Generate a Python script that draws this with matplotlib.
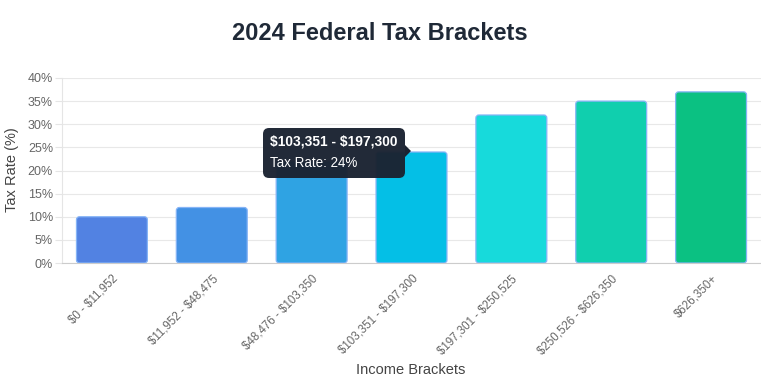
import matplotlib
matplotlib.use("Agg")
import matplotlib.pyplot as plt
from matplotlib.patches import FancyBboxPatch, Polygon

plt.rcParams["text.parse_math"] = False
plt.rcParams["font.family"] = ["Liberation Sans", "DejaVu Sans"]

categories = ["$0 - $11,952", "$11,952 - $48,475", "$48,476 - $103,350",
              "$103,351 - $197,300", "$197,301 - $250,525", "$250,526 - $626,350",
              "$626,350+"]
rates = [10, 12, 22, 24, 32, 35, 37]
colors = ["#5282e2", "#4391e4", "#2fa3e3", "#04bfe6", "#17dadb", "#10cfae", "#0bc182"]
yticks = [0, 5, 10, 15, 20, 25, 30, 35, 40]

W, H = 761, 384
fig = plt.figure(figsize=(W / 100, H / 100), dpi=100)
L, R, T, B = 62, 761, 78, 263
ax = fig.add_axes([L / W, 1 - B / H, (R - L) / W, (B - T) / H])

x = list(range(len(categories)))
bars = ax.bar(x, rates, width=0.71, color="none", edgecolor="none")
xu = (R - L) / len(categories)  # px per x unit
yu = (B - T) / 40.0             # px per y unit
r_px = 3.0
for b, c in zip(bars, colors):
    p = FancyBboxPatch((b.get_x(), b.get_y()), b.get_width(), b.get_height(),
                       boxstyle=f"round,pad=0,rounding_size={r_px / xu}",
                       mutation_aspect=(r_px / yu) / (r_px / xu),
                       facecolor=c, edgecolor="#86b4f6", linewidth=0.9, zorder=3)
    ax.add_patch(p)

ax.set_xlim(-0.5, len(categories) - 0.5)
ax.set_ylim(0, 40)
ax.set_yticks(yticks)
ax.set_yticklabels([f"{v}%" for v in yticks], color="#666666", fontsize=9)
ax.set_xticks(x)
ax.set_xticklabels(categories, rotation=45, ha="right", va="top",
                   rotation_mode="anchor", color="#666666", fontsize=8.3)
ax.tick_params(axis="x", length=0, pad=7)
ax.tick_params(axis="y", length=5, color="#e5e5e5", pad=1.5)
ax.grid(axis="y", color="#e8e8e8", linewidth=0.8, zorder=0)
ax.set_axisbelow(True)
for s in ["top", "right"]:
    ax.spines[s].set_visible(False)
ax.spines["left"].set_color("#e5e5e5")
ax.spines["bottom"].set_color("#cccccc")

fig.text(411 / W, 1 - 370 / H, "Income Brackets", ha="center", va="center",
         fontsize=10.5, color="#444444")
fig.text(12 / W, 1 - 170 / H, "Tax Rate (%)", ha="center", va="center",
         rotation=90, fontsize=10.5, color="#444444")

fig.text(380 / W, 1 - 33 / H, "2024 Federal Tax Brackets", ha="center", va="center",
         fontsize=17, fontweight="bold", color="#1f2937")

# tooltip
tx0, ty0, tx1, ty1 = 263, 128, 405, 178
tip = FancyBboxPatch((tx0 / W, 1 - ty1 / H), (tx1 - tx0) / W, (ty1 - ty0) / H,
                     boxstyle="round,pad=0,rounding_size=0.008",
                     mutation_aspect=W / H,
                     transform=fig.transFigure, facecolor="#1b2331", edgecolor="none",
                     alpha=0.97, zorder=10)
fig.add_artist(tip)
caret = Polygon([(tx1 / W, 1 - 145 / H), (411 / W, 1 - 151 / H), (tx1 / W, 1 - 157 / H)],
                closed=True, transform=fig.transFigure, facecolor="#1b2331",
                edgecolor="none", zorder=10)
fig.add_artist(caret)
fig.text(270 / W, 1 - 141 / H, "$103,351 - $197,300", ha="left", va="center",
         fontsize=9.9, fontweight="bold", color="white", zorder=11)
fig.text(270 / W, 1 - 163 / H, "Tax Rate: 24%", ha="left", va="center",
         fontsize=9.75, color="white", zorder=11)

fig.savefig("out.png", dpi=100)
